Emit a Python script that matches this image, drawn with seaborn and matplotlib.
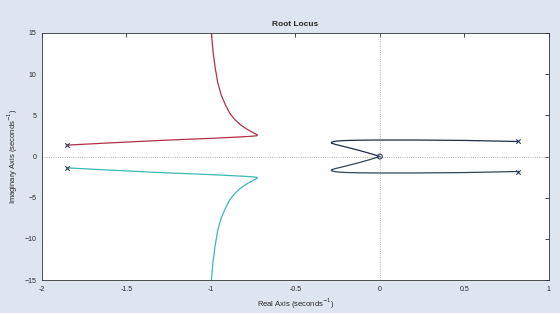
import matplotlib
matplotlib.use('Agg')
import matplotlib.pyplot as plt
import seaborn as sns
import pandas as pd

# root locus branches (real, imaginary)
red_re = [-1.85, -1.6, -1.3, -1.0, -0.85, -0.78, -0.745, -0.728, -0.725, -0.735, -0.76, -0.79, -0.825, -0.86, -0.89, -0.915, -0.94, -0.96, -0.975, -0.988, -0.997]
red_im = [1.38, 1.65, 1.95, 2.2, 2.35, 2.43, 2.48, 2.53, 2.6, 2.75, 3.0, 3.35, 3.85, 4.5, 5.3, 6.3, 7.5, 9.0, 10.8, 12.8, 15.0]
cyan_re = [-1.85, -1.6, -1.3, -1.0, -0.85, -0.78, -0.745, -0.728, -0.725, -0.735, -0.76, -0.79, -0.825, -0.86, -0.89, -0.915, -0.94, -0.96, -0.975, -0.988, -0.997]
cyan_im = [-1.38, -1.65, -1.95, -2.2, -2.35, -2.43, -2.48, -2.53, -2.6, -2.75, -3.0, -3.35, -3.85, -4.5, -5.3, -6.3, -7.5, -9.0, -10.8, -12.8, -15.0]
up_re = [0.82, 0.5, 0.2, 0.0, -0.12, -0.2, -0.25, -0.275, -0.288, -0.285, -0.26, -0.2, -0.13, -0.06, 0.0]
up_im = [1.82, 1.95, 2.0, 2.0, 1.98, 1.94, 1.88, 1.8, 1.7, 1.6, 1.45, 1.15, 0.78, 0.38, 0.0]
lo_re = [0.82, 0.5, 0.2, 0.0, -0.12, -0.2, -0.25, -0.275, -0.288, -0.285, -0.26, -0.2, -0.13, -0.06, 0.0]
lo_im = [-1.82, -1.95, -2.0, -2.0, -1.98, -1.94, -1.88, -1.8, -1.7, -1.6, -1.45, -1.15, -0.78, -0.38, 0.0]
poles_re = [-1.85, -1.85, 0.82, 0.82]
poles_im = [1.38, -1.38, 1.82, -1.82]
zeros_re = [0.0]
zeros_im = [0.0]

sns.set_style('white')
plt.rcParams['font.family'] = ['Liberation Sans', 'DejaVu Sans']

fig = plt.figure(figsize=(5.6, 3.13), dpi=100, facecolor='#dfe5f0')
ax = fig.add_axes([0.075, 0.105, 0.905, 0.79])
ax.set_facecolor('white')

# 축 0선 (점선)
ax.axhline(0, color='#999999', lw=0.6, ls=':')
ax.axvline(0, color='#999999', lw=0.6, ls=':')

branches = [(red_re, red_im, '#b0304a'), (cyan_re, cyan_im, '#3cb8b8'),
            (up_re, up_im, '#1f2d4a'), (lo_re, lo_im, '#2e4656')]
for re_, im_, c in branches:
    df = pd.DataFrame({'re': re_, 'im': im_})
    sns.lineplot(data=df, x='re', y='im', sort=False, estimator=None, color=c, lw=0.9, ax=ax)

ax.scatter(poles_re, poles_im, marker='x', s=10, color='#2a3a5a', linewidths=0.8, zorder=5)
ax.scatter(zeros_re, zeros_im, marker='o', s=12, facecolors='none', edgecolors='#2a3a5a', linewidths=0.8, zorder=5)

ax.set_xlim(-2, 1)
ax.set_ylim(-15, 15)
ax.set_xticks([-2, -1.5, -1, -0.5, 0, 0.5, 1])
ax.set_xticklabels(['-2', '-1.5', '-1', '-0.5', '0', '0.5', '1'])
ax.set_yticks([-15, -10, -5, 0, 5, 10, 15])
ax.tick_params(direction='in', length=3, width=0.6, labelsize=5, top=True, right=True, pad=4)
for s in ax.spines.values():
    s.set_linewidth(0.6)
    s.set_color('#333333')

ax.set_title('Root Locus', fontsize=6, fontweight='bold', pad=5)
ax.set_xlabel('Real Axis (seconds$^{-1}$)', fontsize=5.5, labelpad=3)
ax.set_ylabel('Imaginary Axis (seconds$^{-1}$)', fontsize=5.5, labelpad=3)

fig.savefig('out.png', dpi=100, facecolor=fig.get_facecolor())
